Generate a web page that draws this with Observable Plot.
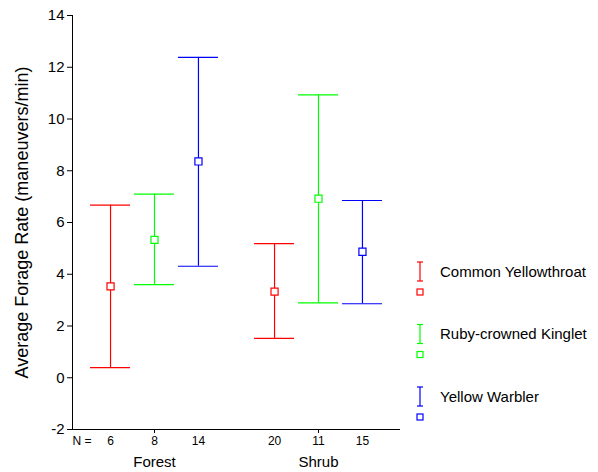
<!DOCTYPE html>
<html><head><meta charset="utf-8">
<script src="https://cdn.jsdelivr.net/npm/d3@7"></script>
<script src="https://cdn.jsdelivr.net/npm/@observablehq/plot@0.6"></script>
<style>
body{margin:0;background:#fff;font-family:"Liberation Sans",Arial,sans-serif}
#c{position:relative;width:598px;height:472px}
#legend{position:absolute;left:0;top:0}
</style>
</head><body><div id="c"></div>
<script>
const groups = ["Forest", "Shrub"];
const species = ["Common Yellowthroat", "Ruby-crowned Kinglet", "Yellow Warbler"];
const colors = ["#ff0000", "#00ff00", "#0000ff"];
const nValues = [[6, 8, 14], [20, 11, 15]];
const meanValues = [[3.53, 5.33, 8.36], [3.33, 6.92, 4.87]];
const upperValues = [[6.67, 7.1, 12.38], [5.18, 10.93, 6.85]];
const lowerValues = [[0.39, 3.6, 4.31], [1.52, 2.89, 2.86]];
const yTicks = [-2, 0, 2, 4, 6, 8, 10, 12, 14];
const yDomain = [-2, 14];
const xDomain = [0.5, 2.5];
const yLabel = "Average Forage Rate (maneuvers/min)";

const spread = 0.268, capHalf = 0.122;
const rows = groups.flatMap((g, gi) => species.map((s, si) => ({
  group: g, species: s, pos: gi + 1 + (si - 1) * spread,
  n: nValues[gi][si], mean: meanValues[gi][si], hi: upperValues[gi][si], lo: lowerValues[gi][si]
})));
const groupRows = groups.map((g, gi) => ({group: g, pos: gi + 1}));

const plot = Plot.plot({
  width: 598, height: 472,
  marginTop: 15, marginBottom: 43, marginLeft: 72, marginRight: 198,
  style: {fontFamily: "Liberation Sans, Arial, sans-serif", fontSize: "15px", color: "#000", background: "transparent"},
  x: {domain: xDomain},
  y: {domain: yDomain},
  color: {domain: species, range: colors},
  marks: [
    Plot.ruleX([xDomain[0]], {stroke: "#000"}),
    Plot.ruleY([yDomain[0]], {stroke: "#000"}),
    Plot.axisY({ticks: yTicks, tickSize: 5, tickPadding: 3, label: null, fontSize: 15, tickFormat: d => d < 0 ? "-" + Math.abs(d) : d}),
    Plot.axisX({ticks: [1, 2], tickSize: 4, tickFormat: () => "", label: null}),
    Plot.text([yLabel], {frameAnchor: "left", textAnchor: "middle", rotate: -90, dx: -50, fontSize: 18}),
    Plot.ruleX(rows, {x: "pos", y1: "lo", y2: "hi", stroke: "species", strokeWidth: 1.2}),
    Plot.ruleY(rows, {y: "hi", x1: d => d.pos - capHalf, x2: d => d.pos + capHalf, stroke: "species", strokeWidth: 1.2}),
    Plot.ruleY(rows, {y: "lo", x1: d => d.pos - capHalf, x2: d => d.pos + capHalf, stroke: "species", strokeWidth: 1.2}),
    Plot.dot(rows, {x: "pos", y: "mean", symbol: "square", r: 4, stroke: "species", fill: "white", strokeWidth: 1.2}),
    Plot.text(rows, {x: "pos", text: "n", frameAnchor: "bottom", dy: 15, fontSize: 12}),
    Plot.text(["N ="], {frameAnchor: "bottom-left", dy: 15, fontSize: 12}),
    Plot.text(groupRows, {x: "pos", text: "group", frameAnchor: "bottom", dy: 37, fontSize: 15})
  ]
});
const c = document.getElementById("c");
c.appendChild(plot);

// Legend
const lg = d3.select(c).append("svg").attr("id", "legend").attr("width", 598).attr("height", 472);
species.forEach((s, i) => {
  const y0 = 262 + i * 62.5;
  const g = lg.append("g").attr("stroke", colors[i]).attr("fill", "none").attr("stroke-width", 1.2);
  g.append("line").attr("x1", 420).attr("x2", 420).attr("y1", y0).attr("y2", y0 + 19);
  g.append("line").attr("x1", 417).attr("x2", 423).attr("y1", y0).attr("y2", y0);
  g.append("line").attr("x1", 417).attr("x2", 423).attr("y1", y0 + 19).attr("y2", y0 + 19);
  g.append("rect").attr("x", 417).attr("y", y0 + 27).attr("width", 6).attr("height", 6).attr("fill", "white");
  lg.append("text").attr("x", 440).attr("y", y0 + 11).attr("dominant-baseline", "middle")
    .attr("font-family", "Liberation Sans, Arial, sans-serif").attr("font-size", 15).attr("fill", "#000").text(s);
});
</script>
</body></html>
